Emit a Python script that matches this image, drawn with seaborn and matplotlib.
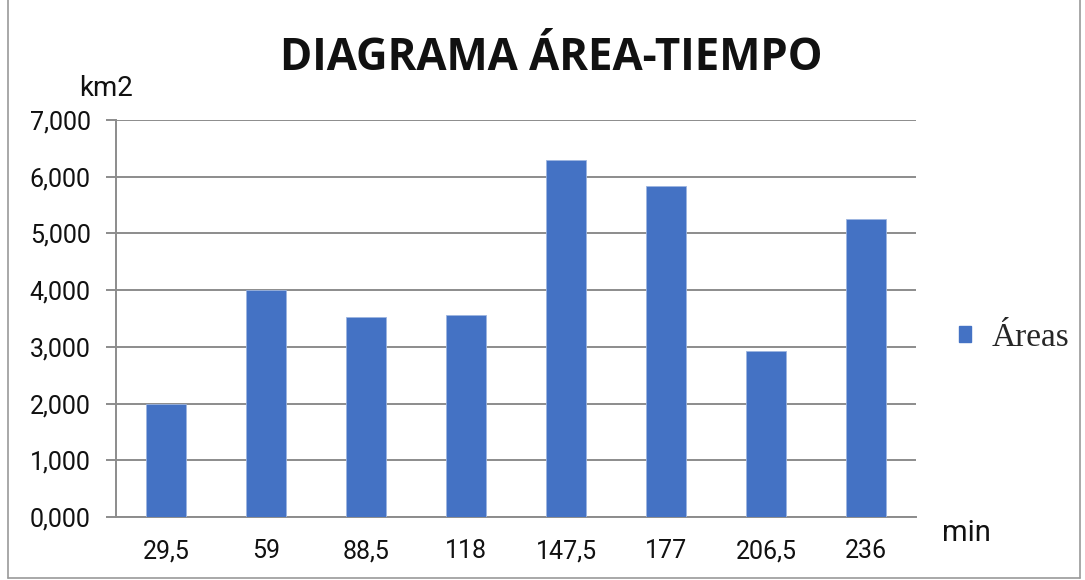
import matplotlib
matplotlib.use("Agg")
import matplotlib.pyplot as plt
import seaborn as sns
import pandas as pd
from matplotlib.ticker import FuncFormatter, FixedLocator
from matplotlib.lines import Line2D

categorias = ["29,5", "59", "88,5", "118", "147,5", "177", "206,5", "236"]
areas = [2.0, 4.0, 3.53, 3.56, 6.3, 5.84, 2.93, 5.25]
y_ticks = [0, 1, 2, 3, 4, 5, 6, 7]

sns.set_theme(style="white")
plt.rcParams['font.family'] = ['Roboto', 'DejaVu Sans']

W, H = 1085, 580
fig = plt.figure(figsize=(W / 100, H / 100), dpi=100)
ax = fig.add_axes([116 / W, 1 - 517 / H, 800 / W, 397 / H])

df = pd.DataFrame({"min": categorias, "area": areas})
sns.barplot(data=df, x="min", y="area", color="#4472C4", width=0.4,
            saturation=1, ax=ax, edgecolor="#9DB5E0", linewidth=0.6,
            zorder=3)
if ax.get_legend() is not None:
    ax.get_legend().remove()

ax.set_xlim(-0.5, 7.5)
ax.set_ylim(0, 7)
ax.set_yticks(y_ticks)
ax.yaxis.set_major_formatter(FuncFormatter(lambda v, p: f"{v:.3f}".replace(".", ",")))
ax.grid(axis="y", color="#8C8C8C", linewidth=1.4, zorder=0)
ax.set_axisbelow(True)

for s in ["top", "right"]:
    ax.spines[s].set_visible(False)
ax.spines["left"].set_color("#8C8C8C")
ax.spines["left"].set_linewidth(1.4)
ax.spines["bottom"].set_color("#8C8C8C")
ax.spines["bottom"].set_linewidth(1.4)

ax.xaxis.set_minor_locator(FixedLocator([i - 0.5 for i in range(9)]))
ax.tick_params(axis="x", which="major", length=0, pad=16, labelsize=18, labelcolor="#111111")
ax.tick_params(axis="x", which="minor", length=7, width=1.4, color="#8C8C8C", direction="out")
ax.tick_params(axis="y", which="major", length=7.2, width=1.4, color="#8C8C8C", direction="out",
               pad=11, labelsize=18, labelcolor="#111111", left=True)
ax.set_xlabel("")
ax.set_ylabel("")

fig.text(551 / W, 1 - 59 / H, "DIAGRAMA ÁREA-TIEMPO", ha="center", va="center",
         fontsize=31.5, fontweight="bold", family=["Open Sans", "DejaVu Sans"], color="#111111")
fig.text(106 / W, 1 - 88 / H, "km2", ha="center", va="center", fontsize=20, color="#111111")
fig.text(966 / W, 1 - 533 / H, "min", ha="center", va="center", fontsize=21, color="#111111")

h = [plt.Rectangle((0, 0), 1, 1, color="#4472C4")]
fig.legend(h, ["Áreas"], loc="center left", bbox_to_anchor=(959 / W, 1 - 338 / H),
           frameon=False, handlelength=0.36, handleheight=0.36, handletextpad=0.62,
           borderpad=0, borderaxespad=0,
           prop={"family": "Liberation Serif", "size": 24})

for (x0, y0, x1, y1) in [(8, 0, 8, 578), (8, 578, 1080, 578), (1080, 0, 1080, 578)]:
    fig.add_artist(Line2D([x0 / W, x1 / W], [1 - y0 / H, 1 - y1 / H], color="#9A9A9A",
                          linewidth=1.2, transform=fig.transFigure))

fig.savefig("out.png", dpi=100, facecolor="white")
